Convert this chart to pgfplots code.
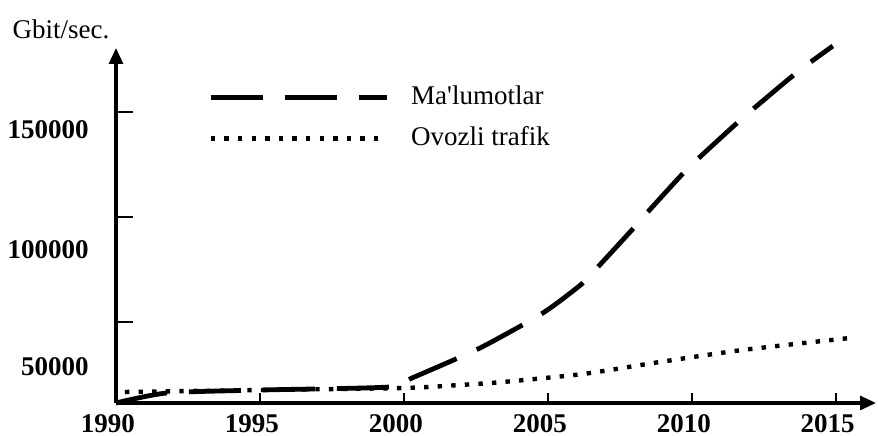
\documentclass[border=0pt]{standalone}
\usepackage{fontspec}
\setmainfont{Liberation Serif}
\usepackage{pgfplots}
\pgfplotsset{compat=1.18}
\usetikzlibrary{arrows.meta}

\begin{document}
\fontsize{13.5}{16}\selectfont
\begin{tikzpicture}
\begin{axis}[scale only axis,width=380pt,height=177.5pt,
 xmin=1990,xmax=2016.4,ymin=11430,ymax=180480,
 axis lines=left,clip=false,
 axis line style={line width=1.6pt,-{Triangle[length=8pt,width=7pt]}},
 tick align=inside,major tick length=5pt,
 xtick={1990,1995,2000,2005,2010,2015},
 xticklabels={1990,1995,2000,2005,2010,2015},
 xtick style={draw=black,line width=1pt},
 ytick={28570,84500,141400},
 yticklabels={50000,100000,150000},
 ytick style={draw=none},
 extra y ticks={50000,100000,150000},extra y tick labels={,,},
 extra y tick style={major tick length=8.5pt,ytick style={draw=black,line width=1.3pt}},
 scaled y ticks=false,
 tick label style={font=\fontsize{13.5}{16}\selectfont\bfseries},
 xticklabel style={xshift=-4pt,yshift=-1pt},
 yticklabel style={xshift=-9pt},
 ylabel={Gbit/sec.},
 ylabel style={rotate=-90,at={(axis description cs:0,1)},anchor=center,xshift=-27.5pt,yshift=9.5pt,font=\fontsize{13.5}{16}\selectfont},
 legend style={draw=none,fill=none,at={(axis description cs:0.121,0.905)},anchor=north west,
  row sep=5pt,column sep=9pt,inner sep=0pt,font=\fontsize{13.5}{16}\selectfont},
 legend cell align=left,
 legend image code/.code={\draw[#1] (0pt,0pt) -- (88pt,0pt);}]
\addplot[black,line width=2.4pt,dash pattern=on 26pt off 11pt,smooth,tension=0.4] coordinates {
 (1990,11430) (1991.77,16200) (1995,17600) (1999.5,19050) (2000.28,23330)
 (2002.64,37600) (2004.83,54300) (2006.22,68570) (2006.74,76190)
 (2007.92,93810) (2008.44,101900) (2009.58,119050) (2010.17,127140) (2011.42,142860)
 (2012.01,150000) (2013.33,165240) (2013.99,172380) (2014.9,181430)};
\addlegendentry{Ma\textquotesingle lumotlar}
\addplot[black,line width=2.2pt,dash pattern=on 2.2pt off 4.6pt,smooth,tension=0.4] coordinates {
 (1990.31,16670) (1995,17620) (2000,18570) (2001.94,20000) (2003.44,21430)
 (2006.22,25240) (2008.89,30950) (2011.77,36670) (2015.49,42380)};
\addlegendentry{Ovozli trafik}
\end{axis}
\pgfresetboundingbox
\path[use as bounding box] ([shift={(-58pt,-16.5pt)}]current axis.south west) rectangle ([shift={(1pt,24pt)}]current axis.north east);
\end{tikzpicture}
\end{document}
